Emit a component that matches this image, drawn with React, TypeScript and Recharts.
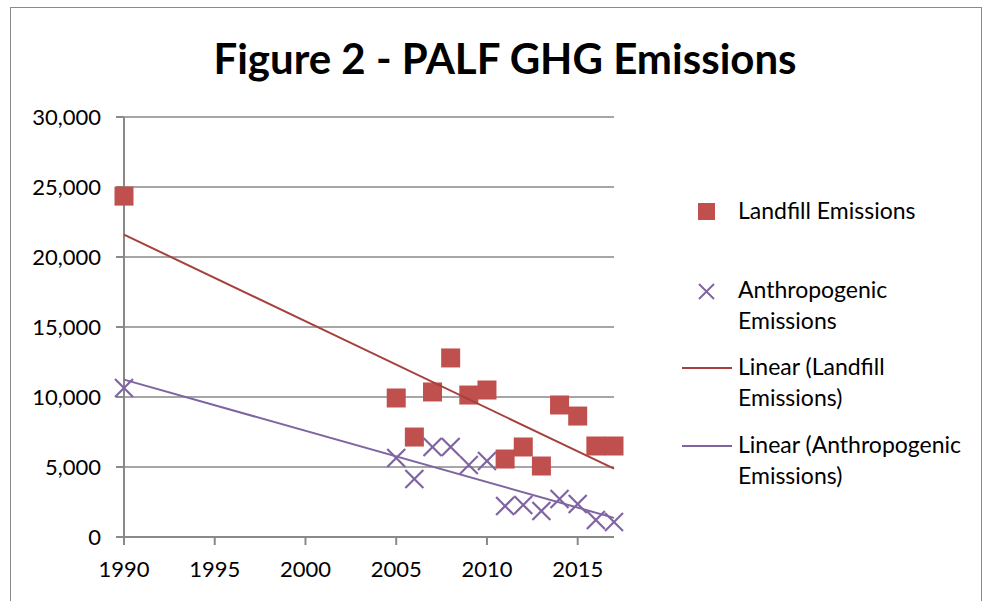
import React from 'react';
import { ScatterChart, Scatter, XAxis, YAxis, CartesianGrid } from 'recharts';

const years = [1990, 2005, 2006, 2007, 2008, 2009, 2010, 2011, 2012, 2013, 2014, 2015, 2016, 2017];
const landfill = [24350, 9930, 7140, 10360, 12790, 10140, 10500, 5570, 6430, 5070, 9430, 8640, 6500, 6500];
const anthropogenic = [10640, 5640, 4140, 6430, 6430, 5140, 5430, 2210, 2290, 1860, 2710, 2360, 1210, 1070];
const xTicks = [1990, 1995, 2000, 2005, 2010, 2015];
const yTicks = [0, 5000, 10000, 15000, 20000, 25000, 30000];

const landfillPts = years.map((x, i) => ({ x, y: landfill[i] }));
const anthroPts = years.map((x, i) => ({ x, y: anthropogenic[i] }));

const RED = '#c0504d';
const RED_LINE = '#a5403c';
const PURPLE = '#8064a2';
const GRID = '#898989';
const FONT = 'Lato, "Open Sans", sans-serif';

const SquareShape = (p: any) => (
  <rect x={p.cx - 9.5} y={p.cy - 9.5} width={19} height={19} fill={RED} />
);

const CrossShape = (p: any) => (
  <g stroke={PURPLE} strokeWidth={2.2}>
    <line x1={p.cx - 9} y1={p.cy - 9} x2={p.cx + 9} y2={p.cy + 9} />
    <line x1={p.cx - 9} y1={p.cy + 9} x2={p.cx + 9} y2={p.cy - 9} />
  </g>
);

const EmptyShape = () => <g />;

const fmt = (v: number) => v.toLocaleString('en-US');

const legendText: React.CSSProperties = {
  position: 'absolute',
  left: 738,
  fontSize: 23,
  lineHeight: '31px',
  color: '#000',
  whiteSpace: 'nowrap',
};

const App: React.FC = () => (
  <div style={{ position: 'absolute', left: 0, top: 0, width: 987, height: 601, background: '#fff', fontFamily: FONT, overflow: 'hidden' }}>
    <div style={{ position: 'absolute', left: 10, top: 7, width: 972, height: 620, border: '1.5px solid #8a8a8a', boxSizing: 'border-box' }} />
    <div style={{ position: 'absolute', left: 0, width: 1010, top: 31, textAlign: 'center', fontSize: 42, fontWeight: 700, lineHeight: '54px' }}>
      Figure 2 - PALF GHG Emissions
    </div>
    <div style={{ position: 'absolute', left: 0, top: 0 }}>
      <ScatterChart width={987} height={601} margin={{ top: 117, right: 373, bottom: 24, left: 0 }}>
        <CartesianGrid vertical={false} stroke={GRID} strokeWidth={1.5} />
        <XAxis
          type="number"
          dataKey="x"
          domain={[1990, 2017]}
          ticks={xTicks}
          height={40}
          tickSize={8}
          tickMargin={16}
          stroke={GRID}
          strokeWidth={2}
          tick={{ fill: '#000', fontSize: 22, fontFamily: FONT }}
        />
        <YAxis
          type="number"
          dataKey="y"
          domain={[0, 30000]}
          ticks={yTicks}
          width={124}
          tickSize={8}
          tickMargin={15}
          tickFormatter={fmt}
          stroke={GRID}
          strokeWidth={2}
          tick={{ fill: '#000', fontSize: 22, fontFamily: FONT }}
        />
        <Scatter name="Landfill Emissions" data={landfillPts} shape={SquareShape} isAnimationActive={false} />
        <Scatter name="Anthropogenic Emissions" data={anthroPts} shape={CrossShape} isAnimationActive={false} />
        <Scatter
          name="Linear (Landfill Emissions)"
          data={landfillPts}
          shape={EmptyShape}
          line={{ stroke: RED_LINE, strokeWidth: 2 }}
          lineType="fitting"
          isAnimationActive={false}
        />
        <Scatter
          name="Linear (Anthropogenic Emissions)"
          data={anthroPts}
          shape={EmptyShape}
          line={{ stroke: PURPLE, strokeWidth: 2 }}
          lineType="fitting"
          isAnimationActive={false}
        />
      </ScatterChart>
    </div>
    {/* legend */}
    <svg style={{ position: 'absolute', left: 0, top: 0 }} width={987} height={601}>
      <rect x={698} y={203} width={17} height={17} fill={RED} />
      <g stroke={PURPLE} strokeWidth={2}>
        <line x1={699} y1={284} x2={714} y2={299} />
        <line x1={699} y1={299} x2={714} y2={284} />
      </g>
      <line x1={682} y1={368} x2={732} y2={368} stroke={RED_LINE} strokeWidth={2} />
      <line x1={682} y1={446} x2={732} y2={446} stroke={PURPLE} strokeWidth={2} />
    </svg>
    <div style={{ ...legendText, top: 195 }}>Landfill Emissions</div>
    <div style={{ ...legendText, top: 274 }}>Anthropogenic<br />Emissions</div>
    <div style={{ ...legendText, top: 351 }}>Linear (Landfill<br />Emissions)</div>
    <div style={{ ...legendText, top: 429 }}>Linear (Anthropogenic<br />Emissions)</div>
  </div>
);

export default App;
